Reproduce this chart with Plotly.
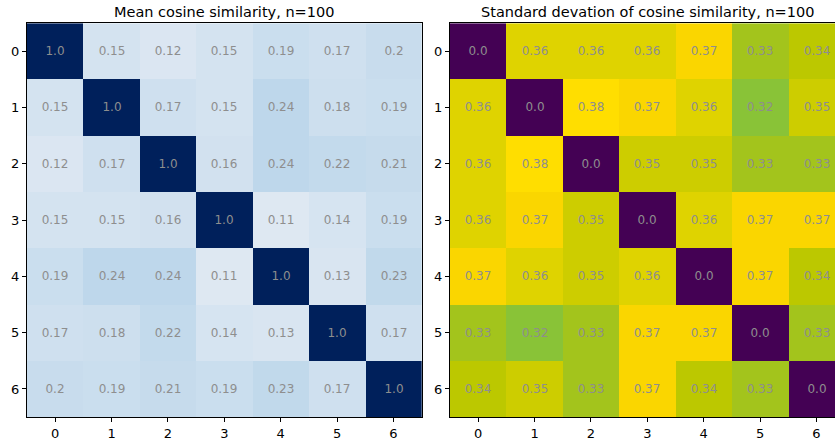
import plotly.graph_objects as go
import plotly.express as px

labels = [0, 1, 2, 3, 4, 5, 6]

mean_sim = [
    [1.0, 0.15, 0.12, 0.15, 0.19, 0.17, 0.2],
    [0.15, 1.0, 0.17, 0.15, 0.24, 0.18, 0.19],
    [0.12, 0.17, 1.0, 0.16, 0.24, 0.22, 0.21],
    [0.15, 0.15, 0.16, 1.0, 0.11, 0.14, 0.19],
    [0.19, 0.24, 0.24, 0.11, 1.0, 0.13, 0.23],
    [0.17, 0.18, 0.22, 0.14, 0.13, 1.0, 0.17],
    [0.2, 0.19, 0.21, 0.19, 0.23, 0.17, 1.0],
]

std_sim = [
    [0.0, 0.36, 0.36, 0.36, 0.37, 0.33, 0.34],
    [0.36, 0.0, 0.38, 0.37, 0.36, 0.32, 0.35],
    [0.36, 0.38, 0.0, 0.35, 0.35, 0.33, 0.33],
    [0.36, 0.37, 0.35, 0.0, 0.36, 0.37, 0.37],
    [0.37, 0.36, 0.35, 0.36, 0.0, 0.37, 0.34],
    [0.33, 0.32, 0.33, 0.37, 0.37, 0.0, 0.33],
    [0.34, 0.35, 0.33, 0.37, 0.34, 0.33, 0.0],
]

titles = ["Mean cosine similarity, n=100",
          "Standard devation of cosine similarity, n=100"]

W, H = 835, 441
FONT = "DejaVu Sans"

# Blues-style scale, slightly deeper at the dark end
blues_scale = [
    [0.0, "#eef3f9"],
    [0.1, "#e0e9f3"],
    [0.25, "#bcd6ea"],
    [0.5, "#6baed6"],
    [0.75, "#2171b5"],
    [1.0, "#00205b"],
]

# Viridis with a warmer, more saturated yellow end
viridis = px.colors.sequential.Viridis
n = len(viridis)
viridis_scale = [[i / (n - 1), c] for i, c in enumerate(viridis) if i / (n - 1) < 0.8]
viridis_scale += [
    [0.80, "rgb(120,198,65)"],
    [0.842, "rgb(137,195,55)"],
    [0.868, "rgb(163,196,28)"],
    [0.895, "rgb(188,200,0)"],
    [0.921, "rgb(205,205,0)"],
    [0.947, "rgb(223,211,0)"],
    [0.974, "rgb(250,214,0)"],
    [1.0, "rgb(255,222,0)"],
]


def cell_text(mat):
    return [[str(v) for v in row] for row in mat]


fig = go.Figure()

fig.add_trace(go.Heatmap(
    z=mean_sim, x=labels, y=labels, text=cell_text(mean_sim),
    texttemplate="%{text}", textfont=dict(family=FONT, size=12, color="#8e8e8e"),
    colorscale=blues_scale, zmin=0, zmax=1, showscale=False,
    xaxis="x", yaxis="y", hoverinfo="skip",
))
fig.add_trace(go.Heatmap(
    z=std_sim, x=labels, y=labels, text=cell_text(std_sim),
    texttemplate="%{text}", textfont=dict(family=FONT, size=12, color="#8e8e8e"),
    colorscale=viridis_scale, zmin=0, zmax=0.38, showscale=False,
    xaxis="x2", yaxis="y2", hoverinfo="skip",
))

y_dom = [(H - 419) / H, (H - 23.3) / H]
left_dom = [27 / W, 421.7 / W]
right_dom = [450 / W, 1.0]
cell = (421.7 - 27) / 7
right_hi = -0.5 + (W - 450) / cell

axis_common = dict(
    tickmode="array", tickvals=labels, ticktext=[str(v) for v in labels],
    ticks="outside", ticklen=4, tickwidth=1, tickcolor="black",
    showline=True, linecolor="black", linewidth=1,
    showgrid=False, zeroline=False,
    tickfont=dict(family=FONT, size=13, color="black"),
)

fig.update_layout(
    width=W, height=H,
    margin=dict(l=0, r=0, t=0, b=0),
    paper_bgcolor="white", plot_bgcolor="white",
    xaxis=dict(domain=left_dom, range=[-0.5, 6.5], mirror=True, **axis_common),
    yaxis=dict(domain=y_dom, range=[6.5, -0.5], mirror=True, **axis_common),
    xaxis2=dict(domain=right_dom, range=[-0.5, right_hi], anchor="y2",
                mirror=True, **axis_common),
    yaxis2=dict(domain=y_dom, range=[6.5, -0.5], anchor="x2", **axis_common),
    showlegend=False,
)

title_centers = [(27 + 421.7) / 2 / W, (450 + 450 + 7 * cell) / 2 / W]
for t, cx in zip(titles, title_centers):
    fig.add_annotation(
        text=t, x=cx, y=y_dom[1], xref="paper", yref="paper",
        xanchor="center", yanchor="bottom", yshift=1, showarrow=False,
        font=dict(family=FONT, size=14.5, color="black"),
    )

fig.write_html("out.html")
